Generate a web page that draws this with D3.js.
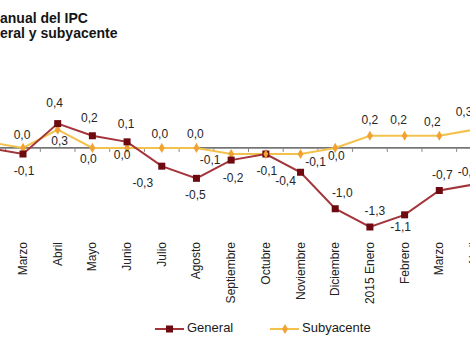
<!DOCTYPE html>
<html>
<head>
<meta charset="utf-8">
<script src="https://cdn.jsdelivr.net/npm/d3@7"></script>
<style>
  html, body { margin: 0; padding: 0; background: #fff; overflow: hidden; }
  svg { display: block; font-family: "Liberation Sans", Arial, sans-serif; }
</style>
</head>
<body>
<svg id="chart" width="470" height="340"></svg>
<script>
// Monthly categories (Feb 2014 – Apr 2015); the first month sits left of the plot edge
const months = ["", "Marzo", "Abril", "Mayo", "Junio", "Julio", "Agosto",
  "Septiembre", "Octubre", "Noviembre", "Diciembre", "2015 Enero", "Febrero", "Marzo", "Abril"];

// Annual CPI rate (%)
const general = [0.0, -0.1, 0.4, 0.2, 0.1, -0.3, -0.5, -0.2, -0.1, -0.4, -1.0, -1.3, -1.1, -0.7, -0.6];
const subyacente = [0.1, 0.0, 0.3, 0.0, 0.0, 0.0, 0.0, -0.1, -0.1, -0.1, 0.0, 0.2, 0.2, 0.2, 0.3];

const titleLines = ["anual del IPC", "eral y subyacente"];
const seriesNames = ["General", "Subyacente"];

// Label nudges relative to each point (label placement only)
const genLabelOffset = [null, [1, 18], [-3, -20], [-3, -17], [-1, -17], [-19, 18], [-1, 17],
  [2, 19], [1, 18], [-15, 10], [7, -15], [5, -15], [-4, 13], [3, -15], [-6, -12]];
const subLabelOffset = [null, [-1, -12], [2, 12], [-4, 12], [-5, 8], [-2, -13], [-1, -13],
  [-21, 7], null, [15, 9], [1, 9], [0, -15], [-6, -15], [-7, -13], [-10, -17]];

const svg = d3.select("#chart");

const x = d3.scaleLinear().domain([0, months.length - 1]).range([-11.7, 474]);
const y = d3.scaleLinear().domain([-1.3, 0.4]).range([227, 123.6]);

const fmt = v => d3.format(".1f")(v).replace(".", ",").replace("−", "-");

const genLine = "#a3343a", genMark = "#6d0a10";
const subLine = "#f3c24c", subMark = "#f0a232";

// Title
svg.append("g").selectAll("text").data(titleLines).join("text")
  .attr("x", 0).attr("y", (d, i) => 23 + i * 14.5)
  .attr("font-size", 14).attr("font-weight", "bold").attr("fill", "#151515")
  .text(d => d);

// Zero line and small ticks between months
svg.append("line")
  .attr("x1", 0).attr("x2", 470).attr("y1", y(0)).attr("y2", y(0))
  .attr("stroke", "#111").attr("stroke-width", 1);
const bounds = d3.range(months.length - 1).map(i => i + 0.5);
svg.append("g").selectAll("line").data(bounds).join("line")
  .attr("x1", d => x(d)).attr("x2", d => x(d))
  .attr("y1", y(0)).attr("y2", y(0) + 4)
  .attr("stroke", "#888").attr("stroke-width", 1);

// Rotated month labels
svg.append("g").selectAll("text").data(months).join("text")
  .attr("transform", (d, i) => `translate(${x(i) + 4},242) rotate(-90)`)
  .attr("text-anchor", "end")
  .attr("font-size", 12).attr("fill", "#222")
  .text(d => d);

const lineGen = d3.line().x((d, i) => x(i)).y(d => y(d));

// Subyacente series
svg.append("path").datum(subyacente)
  .attr("d", lineGen).attr("fill", "none")
  .attr("stroke", subLine).attr("stroke-width", 2);
svg.append("g").selectAll("path").data(subyacente).join("path")
  .attr("d", d3.symbol(d3.symbolDiamond, 30))
  .attr("transform", (d, i) => `translate(${x(i)},${y(d)})`)
  .attr("fill", subMark);

// General series
svg.append("path").datum(general)
  .attr("d", lineGen).attr("fill", "none")
  .attr("stroke", genLine).attr("stroke-width", 2);
svg.append("g").selectAll("rect").data(general).join("rect")
  .attr("x", (d, i) => x(i) - 3.5).attr("y", d => y(d) - 3.5)
  .attr("width", 7).attr("height", 7)
  .attr("fill", genMark);

// Octubre: subyacente marker drawn on top of the general marker
svg.append("path")
  .attr("d", d3.symbol(d3.symbolDiamond, 22))
  .attr("transform", `translate(${x(8)},${y(subyacente[8])})`)
  .attr("fill", subMark);

// Value labels
function labels(values, offsets) {
  svg.append("g").selectAll("text")
    .data(values.map((v, i) => ({ v, i, o: offsets[i] })).filter(d => d.o))
    .join("text")
    .attr("x", d => x(d.i) + d.o[0])
    .attr("y", d => y(d.v) + d.o[1])
    .attr("text-anchor", "middle").attr("dominant-baseline", "middle")
    .attr("font-size", 12).attr("fill", "#262626")
    .text(d => fmt(d.v));
}
labels(general, genLabelOffset);
labels(subyacente, subLabelOffset);

// Legend
const legend = svg.append("g");
const legendX = [155, 270];
seriesNames.forEach((name, k) => {
  const lx = legendX[k], ly = 329;
  legend.append("line").attr("x1", lx).attr("x2", lx + 29).attr("y1", ly).attr("y2", ly)
    .attr("stroke", k === 0 ? genLine : subLine).attr("stroke-width", 2);
  if (k === 0) {
    legend.append("rect").attr("x", lx + 11).attr("y", ly - 3.5).attr("width", 7).attr("height", 7)
      .attr("fill", genMark);
  } else {
    legend.append("path").attr("d", d3.symbol(d3.symbolDiamond, 30))
      .attr("transform", `translate(${lx + 15},${ly})`).attr("fill", subMark);
  }
  legend.append("text").attr("x", lx + 32).attr("y", ly)
    .attr("dominant-baseline", "middle").attr("font-size", 13).attr("fill", "#1a1a1a")
    .text(name);
});
</script>
</body>
</html>
